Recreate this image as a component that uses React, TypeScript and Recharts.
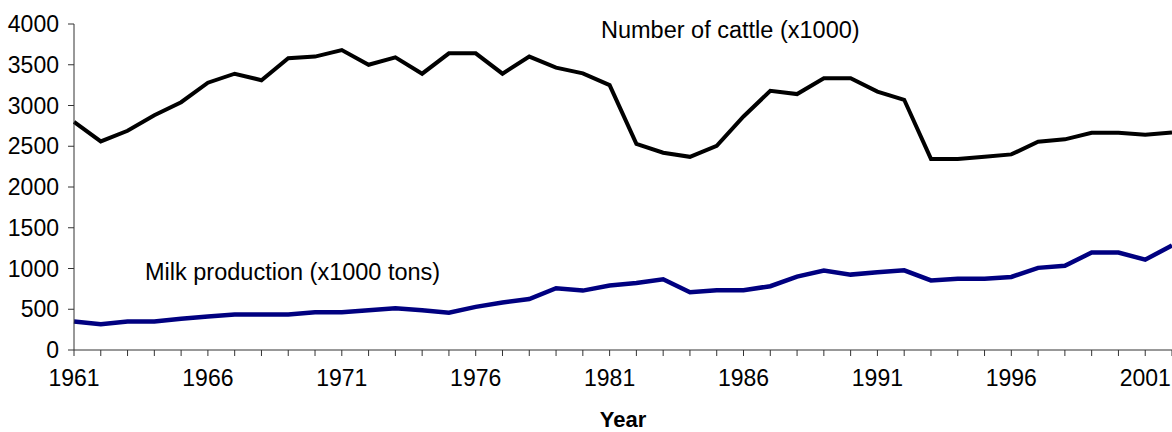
import { LineChart, Line, XAxis, YAxis } from "recharts";

const years = [
  1961, 1962, 1963, 1964, 1965, 1966, 1967, 1968, 1969, 1970, 1971, 1972, 1973, 1974,
  1975, 1976, 1977, 1978, 1979, 1980, 1981, 1982, 1983, 1984, 1985, 1986, 1987, 1988,
  1989, 1990, 1991, 1992, 1993, 1994, 1995, 1996, 1997, 1998, 1999, 2000, 2001, 2002,
];

// number of cattle (x1000)
const cattle = [
  2800, 2560, 2690, 2880, 3040, 3280, 3390, 3310, 3580, 3600, 3680, 3500, 3590, 3390,
  3640, 3640, 3390, 3600, 3465, 3395, 3250, 2530, 2420, 2370, 2505, 2865, 3180, 3140,
  3335, 3335, 3170, 3070, 2345, 2345, 2370, 2400, 2555, 2585, 2665, 2665, 2640, 2670,
];

// milk production (x1000 tons)
const milk = [
  350, 317, 350, 350, 383, 412, 437, 437, 437, 462, 462, 487, 512, 487,
  458, 529, 583, 625, 758, 729, 792, 821, 867, 708, 733, 733, 783, 900,
  975, 925, 954, 977, 854, 875, 875, 896, 1008, 1033, 1196, 1196, 1108, 1283,
];

const yTicks = [0, 500, 1000, 1500, 2000, 2500, 3000, 3500, 4000];

const font = "'Liberation Sans', Arial, sans-serif";
const fontSize = 23;

export default function App() {
  const chartData = years.map((year, i) => ({
    year,
    cattle: cattle[i],
    milk: milk[i],
  }));

  return (
    <div style={{ position: "relative", width: 1172, height: 432 }}>
      <style>{`body { margin: 0; overflow: hidden; }`}</style>
      <LineChart
        width={1172}
        height={432}
        data={chartData}
        margin={{ top: 24, right: 0, left: 0, bottom: 0 }}
      >
        <XAxis
          dataKey="year"
          type="number"
          domain={[1961, 2002]}
          ticks={years}
          interval={0}
          height={82}
          stroke="#333"
          tickSize={6}
          tickMargin={14}
          tick={{ fill: "#000", fontSize, fontFamily: font }}
          tickFormatter={(v) => ((v - 1961) % 5 === 0 ? String(v) : "")}
          label={{
            value: "Year",
            position: "insideBottom",
            offset: 5,
            fill: "#000",
            fontSize: 22,
            fontWeight: 700,
            fontFamily: font,
          }}
        />
        <YAxis
          type="number"
          domain={[0, 4000]}
          ticks={yTicks}
          interval={0}
          width={74}
          stroke="#333"
          tickSize={6}
          tickMargin={9}
          tick={{ fill: "#000", fontSize, fontFamily: font }}
        />
        <Line
          dataKey="cattle"
          stroke="#000"
          strokeWidth={4}
          dot={false}
          isAnimationActive={false}
        />
        <Line
          dataKey="milk"
          stroke="#000080"
          strokeWidth={4.5}
          dot={false}
          isAnimationActive={false}
        />
      </LineChart>
      <svg
        width={1172}
        height={432}
        style={{ position: "absolute", left: 0, top: 0, pointerEvents: "none" }}
      >
        <text x={601} y={38} fontSize={23.5} fontFamily={font} fill="#000">
          Number of cattle (x1000)
        </text>
        <text x={145} y={280} fontSize={23.5} fontFamily={font} fill="#000">
          Milk production (x1000 tons)
        </text>
      </svg>
    </div>
  );
}
